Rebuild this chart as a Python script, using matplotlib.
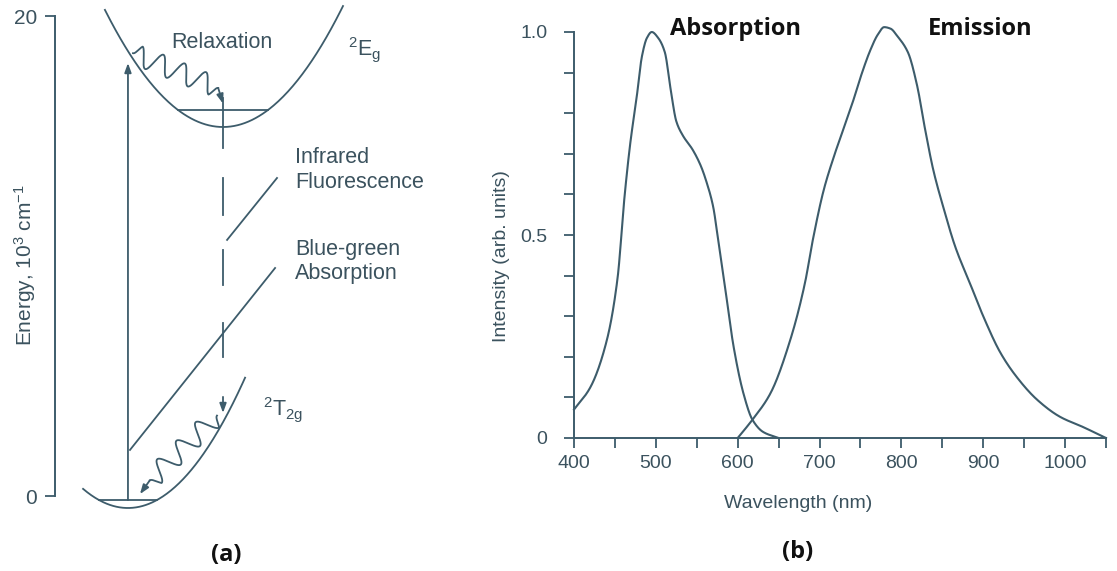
import numpy as np
import matplotlib.pyplot as plt

plt.rcParams['font.family'] = ['Liberation Sans', 'DejaVu Sans']
plt.rcParams['mathtext.fontset'] = 'custom'
plt.rcParams['mathtext.rm'] = 'Liberation Sans'
plt.rcParams['mathtext.it'] = 'Liberation Sans:italic'

LINE = '#3d5c6b'
TXT = '#3b525e'
BOLD_FONT = ['Open Sans', 'DejaVu Sans']

# --- (b) spectra, wavelength in nm / normalised intensity ---
abs_wl = [400, 420, 440, 453, 462, 469, 476, 483, 489, 495, 503, 511, 518,
          525, 533, 545, 555, 562, 570, 576, 585, 595, 607, 618, 631, 650]
abs_int = [0.07, 0.125, 0.24, 0.39, 0.60, 0.73, 0.83, 0.94, 0.985, 1.0, 0.985,
           0.95, 0.86, 0.78, 0.745, 0.71, 0.67, 0.63, 0.57, 0.49, 0.365, 0.225,
           0.11, 0.045, 0.015, 0.0]
em_wl = [600, 618, 640, 664, 682, 692, 705, 717, 729, 741, 752, 762, 771, 779,
         787, 795, 808, 819, 829, 839, 851, 866, 884, 900, 921, 941, 966, 994,
         1022, 1050]
em_int = [0.0, 0.045, 0.11, 0.24, 0.38, 0.49, 0.61, 0.69, 0.76, 0.83, 0.90,
          0.955, 0.993, 1.012, 1.008, 0.99, 0.95, 0.87, 0.76, 0.66, 0.57, 0.47,
          0.38, 0.30, 0.21, 0.15, 0.094, 0.052, 0.027, 0.0]

# --- (a) configuration diagram, x arbitrary, energy in 10^3 cm^-1 ---
upper_vertex = (7.0, 15.375)
upper_curv = 0.2016
upper_x = (2.08, 12.0)
upper_level = 16.08
lower_vertex = (3.04, -0.5)
lower_curv = 0.228
lower_x = (1.17, 7.92)
lower_level = -0.17
pump_x, pump_top = 3.04, 18.04
emit_x = 7.0
emit_dashes = [(16.6, 14.5), (13.25, 11.7), (10.25, 8.8), (7.2, 5.8), (4.13, 3.46)]
ir_pointer = [(7.17, 10.67), (9.25, 13.25)]
bg_pointer = [(3.125, 1.92), (9.17, 9.5)]
relax_upper = [(3.25, 18.45), (6.8, 17.0), (7.0, 16.35)]
relax_lower = [(6.75, 3.35), (3.95, 0.65), (3.54, 0.08)]


def pchip(x, y, n=600):
    # monotone cubic Hermite through the points (Fritsch-Carlson slopes)
    x = np.asarray(x, float)
    y = np.asarray(y, float)
    h = np.diff(x)
    delta = np.diff(y) / h
    d = np.zeros_like(y)
    for k in range(1, len(x) - 1):
        if delta[k - 1] * delta[k] > 0:
            w1 = 2 * h[k] + h[k - 1]
            w2 = h[k] + 2 * h[k - 1]
            d[k] = (w1 + w2) / (w1 / delta[k - 1] + w2 / delta[k])
    d[0] = delta[0]
    d[-1] = delta[-1]
    xn = np.linspace(x[0], x[-1], n)
    idx = np.clip(np.searchsorted(x, xn) - 1, 0, len(x) - 2)
    t = (xn - x[idx]) / h[idx]
    h00 = 2 * t ** 3 - 3 * t ** 2 + 1
    h10 = t ** 3 - 2 * t ** 2 + t
    h01 = -2 * t ** 3 + 3 * t ** 2
    h11 = t ** 3 - t ** 2
    yn = (h00 * y[idx] + h10 * h[idx] * d[idx] + h01 * y[idx + 1]
          + h11 * h[idx] * d[idx + 1])
    return xn, yn


def wiggle(p0, p1, waves, amp, n=400):
    p0, p1 = np.array(p0), np.array(p1)
    d = p1 - p0
    perp = np.array([-d[1], d[0]]) / np.hypot(*d)
    s = np.linspace(0, 1, n)
    taper = np.clip(np.minimum(s, 1 - s) * 14, 0, 1)
    off = amp * np.sin(2 * np.pi * waves * s) * taper
    pts = p0 + s[:, None] * d + off[:, None] * perp
    return pts[:, 0], pts[:, 1]


fig = plt.figure(figsize=(11.17, 5.71), dpi=100)

# ---------------- panel (a) ----------------
ax_a = fig.add_axes([55 / 1117, 75 / 571, 415 / 1117, 480 / 571])
ax_a.set_xlim(0, 415 / 24)
ax_a.set_ylim(0, 20)
for side in ['top', 'right', 'bottom']:
    ax_a.spines[side].set_visible(False)
ax_a.spines['left'].set_color(LINE)
ax_a.spines['left'].set_linewidth(1.4)
ax_a.set_xticks([])
ax_a.set_yticks([0, 20])
ax_a.tick_params(axis='y', direction='out', length=7, width=1.3, color=LINE,
                 labelcolor=TXT, labelsize=15, pad=6)

kw = dict(color=LINE, lw=1.3, clip_on=False)
xu = np.linspace(*upper_x, 200)
ax_a.plot(xu, upper_vertex[1] + upper_curv * (xu - upper_vertex[0]) ** 2, **kw)
half = np.sqrt((upper_level - upper_vertex[1]) / upper_curv)
ax_a.plot([upper_vertex[0] - half, upper_vertex[0] + half], [upper_level] * 2, **kw)

xl = np.linspace(*lower_x, 200)
ax_a.plot(xl, lower_vertex[1] + lower_curv * (xl - lower_vertex[0]) ** 2, **kw)
half = np.sqrt((lower_level - lower_vertex[1]) / lower_curv)
ax_a.plot([lower_vertex[0] - half, lower_vertex[0] + half], [lower_level] * 2, **kw)

arrow = dict(arrowstyle='-|>,head_length=0.55,head_width=0.2',
             color=LINE, lw=1.3, shrinkA=0, shrinkB=0)

# absorption (pump) arrow
ax_a.annotate('', xy=(pump_x, pump_top), xytext=(pump_x, lower_level),
              arrowprops=arrow, annotation_clip=False)

# dashed emission arrow
for top, bot in emit_dashes[:-1]:
    ax_a.plot([emit_x, emit_x], [top, bot], **kw)
top, bot = emit_dashes[-1]
ax_a.annotate('', xy=(emit_x, bot), xytext=(emit_x, top),
              arrowprops=arrow, annotation_clip=False)

# pointers to the labels
for (x0, y0), (x1, y1) in [ir_pointer, bg_pointer]:
    ax_a.plot([x0, x1], [y0, y1], **kw)

# non-radiative relaxation
for path, waves in [(relax_upper, 4.0), (relax_lower, 3.5)]:
    wx, wy = wiggle(path[0], path[1], waves, 0.42)
    ax_a.plot(wx, wy, **kw)
    ax_a.annotate('', xy=path[2], xytext=path[1],
                  arrowprops=arrow, annotation_clip=False)

tk = dict(color=TXT, fontsize=15.5)
ax_a.text(6.96, 18.875, 'Relaxation', ha='center', va='center', **tk)
ax_a.text(12.2, 18.375, r'$^{2}\mathrm{E}_{\mathrm{g}}$', ha='left', va='baseline', **tk)
ax_a.text(10.0, 13.58, 'Infrared\nFluorescence', ha='left', va='center',
          linespacing=1.2, **tk)
ax_a.text(10.0, 9.77, 'Blue-green\nAbsorption', ha='left', va='center',
          linespacing=1.2, **tk)
ax_a.text(8.67, 3.375, r'$^{2}\mathrm{T}_{\mathrm{2g}}$', ha='left', va='baseline', **tk)

fig.text(25 / 1117, 1 - 265 / 571, r'Energy, 10$^{3}$ cm$^{-1}$', rotation=90,
         ha='center', va='center', color=TXT, fontsize=15)

# ---------------- panel (b) ----------------
ax_b = fig.add_axes([574 / 1117, 133 / 571, 532 / 1117, 406 / 571])
ax_b.set_xlim(400, 1050)
ax_b.set_ylim(0, 1.0)
for side in ['top', 'right']:
    ax_b.spines[side].set_visible(False)
for side in ['left', 'bottom']:
    ax_b.spines[side].set_color(LINE)
    ax_b.spines[side].set_linewidth(1.4)

ax, ay = pchip(abs_wl, abs_int)
ax_b.plot(ax, ay, color=LINE, lw=1.5, clip_on=False)
ex, ey = pchip(em_wl, em_int)
ax_b.plot(ex, ey, color=LINE, lw=1.5, clip_on=False)

ax_b.set_xticks(np.arange(400, 1051, 50))
ax_b.set_xticklabels([str(v) if v % 100 == 0 else '' for v in range(400, 1051, 50)])
ax_b.set_yticks(np.arange(0, 1.01, 0.1))
ax_b.set_yticklabels(['0' if i == 0 else ('0.5' if i == 5 else ('1.0' if i == 10 else ''))
                      for i in range(11)])
ax_b.tick_params(axis='both', direction='out', length=7, width=1.3, color=LINE,
                 labelcolor=TXT, labelsize=14)
ax_b.tick_params(axis='x', pad=5)
ax_b.tick_params(axis='y', pad=12)

fig.text(798 / 1117, 1 - 503 / 571, 'Wavelength (nm)', ha='center', va='center',
         color=TXT, fontsize=14)
fig.text(502 / 1117, 1 - 256 / 571, 'Intensity (arb. units)', rotation=90,
         ha='center', va='center', color=TXT, fontsize=14)

ax_b.text(670 / 1117, 1 - 35 / 571, 'Absorption', transform=fig.transFigure,
          ha='left', va='baseline', fontsize=17, fontweight='bold',
          family=BOLD_FONT, color='#111111')
ax_b.text(928 / 1117, 1 - 35 / 571, 'Emission', transform=fig.transFigure,
          ha='left', va='baseline', fontsize=17, fontweight='bold',
          family=BOLD_FONT, color='#111111')

fig.text(226 / 1117, 1 - 555 / 571, '(a)', ha='center', va='center', fontsize=17,
         fontweight='bold', family=BOLD_FONT, color='#111111')
fig.text(798 / 1117, 1 - 552 / 571, '(b)', ha='center', va='center', fontsize=17,
         fontweight='bold', family=BOLD_FONT, color='#111111')

fig.savefig('out.png', dpi=100)
